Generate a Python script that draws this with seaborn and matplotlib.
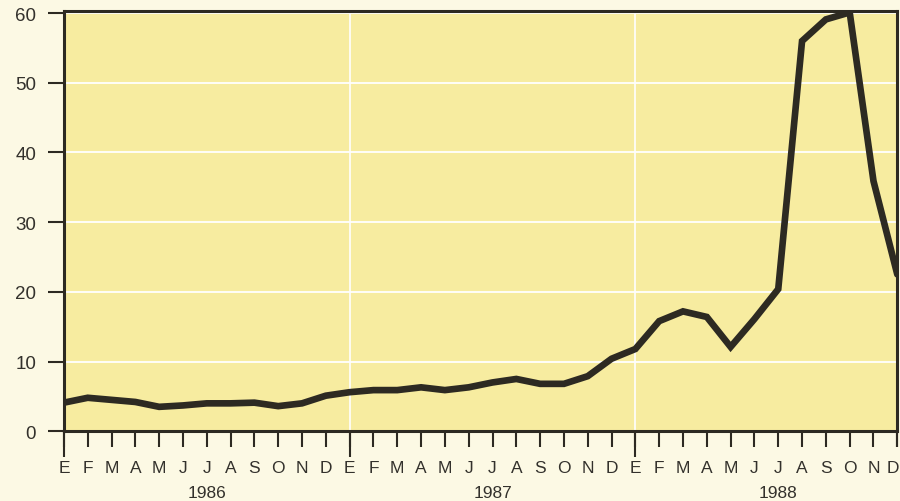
import matplotlib
matplotlib.use("Agg")
import matplotlib.pyplot as plt
import matplotlib.transforms as mtransforms
import seaborn as sns
import numpy as np

# Datos mensuales 1986-1988
meses = ['E', 'F', 'M', 'A', 'M', 'J', 'J', 'A', 'S', 'O', 'N', 'D']
anios = ['1986', '1987', '1988']
valores_1986 = [4.1, 4.8, 4.5, 4.2, 3.5, 3.7, 4.0, 4.0, 4.1, 3.6, 4.0, 5.1]
valores_1987 = [5.6, 5.9, 5.9, 6.3, 5.9, 6.3, 7.0, 7.5, 6.8, 6.8, 7.9, 10.4]
valores_1988 = [11.8, 15.8, 17.2, 16.4, 12.1, 16.1, 20.4, 56.0, 59.1, 60.1, 35.9, 22.5]
y_ticks = [0, 10, 20, 30, 40, 50, 60]

valores = valores_1986 + valores_1987 + valores_1988
x = np.arange(len(valores))

sns.set_theme(style="white")
plt.rcParams['font.family'] = ['Liberation Sans', 'DejaVu Sans']

TXT = '#33312c'
DARK = '#2d2a22'

fig = plt.figure(figsize=(9, 5.02), dpi=100, facecolor='#fcf9e4')
ax = fig.add_axes([0.071, 0.139, 0.926, 0.837])
ax.set_facecolor('#f7eca0')

# líneas blancas de referencia
for v in y_ticks[1:]:
    ax.axhline(v, color='white', lw=1.3, zorder=1)
for i in range(1, len(anios)):
    ax.axvline(i * 12, color='white', lw=1.2, zorder=1)

sns.lineplot(x=x, y=valores, ax=ax, color=DARK, lw=4.8, zorder=3,
             solid_joinstyle='miter')

ax.set_xlim(0, len(valores) - 1)
ax.set_ylim(0, 60.3)

# eje Y
ax.set_yticks(y_ticks)
ax.set_yticklabels([str(v) for v in y_ticks])
ax.tick_params(axis='y', direction='out', length=11.5, width=1.5, color=DARK,
               pad=8.5, labelsize=13.5, labelcolor=TXT, left=True)

# eje X: marcas cortas por mes, largas al inicio de cada año
ax.xaxis.remove_overlapping_locs = False
ax.set_xticks(x, minor=True)
ax.set_xticklabels(meses * len(anios), minor=True)
ax.set_xticks([0, 12, 24, 35])
ax.set_xticklabels([])
ax.tick_params(axis='x', which='minor', direction='out', length=11.5, width=1.5,
               color=DARK, pad=9, labelsize=12.5, labelcolor=TXT, bottom=True)
ax.tick_params(axis='x', which='major', direction='out', length=19, width=1.5,
               color=DARK, bottom=True)
ax.xaxis.get_major_ticks()[3].tick1line.set_markersize(11.5)

# la última "D" queda justo en el borde: desplazarla un poco
ultima = ax.xaxis.get_minor_ticks()[-1].label1
ultima.set_transform(ultima.get_transform() +
                     mtransforms.ScaledTranslation(-4 / 100, 0, fig.dpi_scale_trans))

trans = mtransforms.blended_transform_factory(ax.transData, ax.transAxes)
for i, a in enumerate(anios):
    ax.text(i * 12 + 6, -0.147, a, transform=trans, ha='center', va='center',
            fontsize=12.5, color=TXT)

for s in ax.spines.values():
    s.set_visible(True)
    s.set_color(DARK)
    s.set_linewidth(2.2)

ax.grid(False)
fig.savefig('out.png', dpi=100, facecolor=fig.get_facecolor())
